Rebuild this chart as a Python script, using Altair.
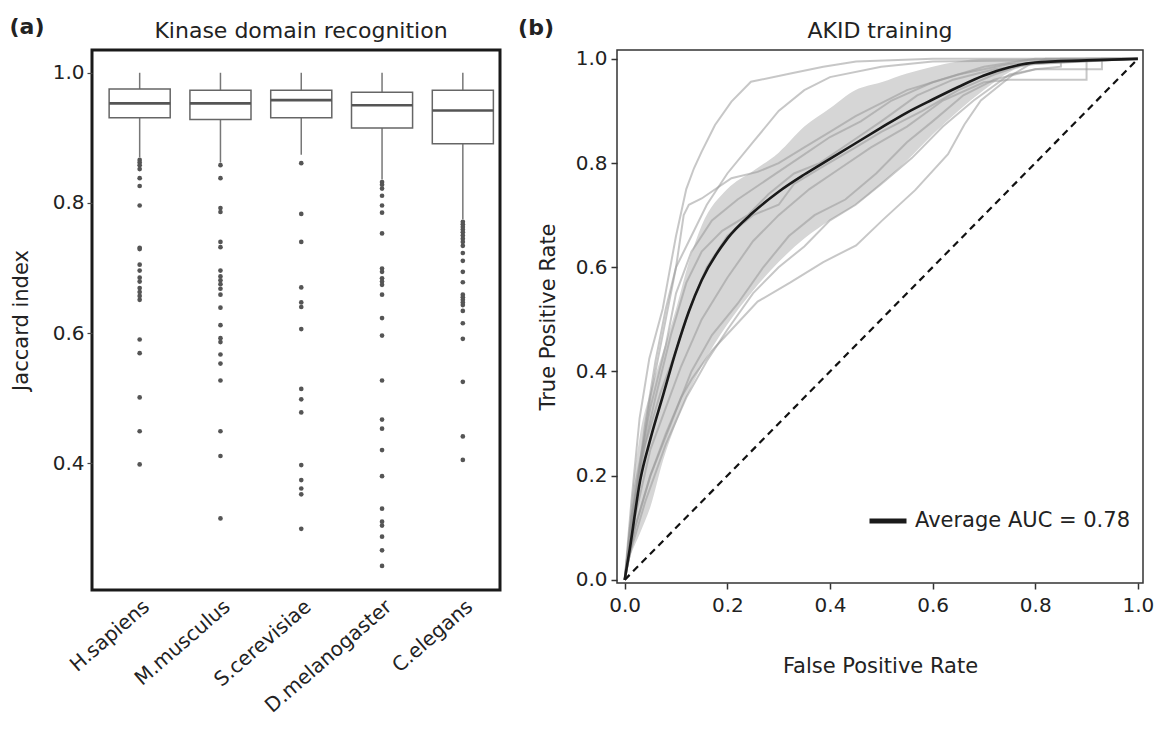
import altair as alt
import pandas as pd

# ---------------- Panel (a): Kinase domain recognition ----------------
species = ["H.sapiens", "M.musculus", "S.cerevisiae", "D.melanogaster", "C.elegans"]
box_q1 = [0.931, 0.928, 0.931, 0.915, 0.891]
box_median = [0.953, 0.953, 0.958, 0.950, 0.942]
box_q3 = [0.975, 0.973, 0.973, 0.970, 0.973]
whisker_low = [0.870, 0.862, 0.874, 0.836, 0.775]
whisker_high = [1.0, 1.0, 1.0, 1.0, 1.0]

outliers_hs = [0.866, 0.862, 0.858, 0.852, 0.838, 0.826, 0.796, 0.731, 0.729, 0.705,
               0.696, 0.685, 0.679, 0.669, 0.663, 0.657, 0.651, 0.590, 0.569, 0.501,
               0.449, 0.398]
outliers_mm = [0.858, 0.838, 0.792, 0.786, 0.740, 0.732, 0.696, 0.687, 0.681, 0.675,
               0.668, 0.659, 0.639, 0.612, 0.592, 0.586, 0.567, 0.553, 0.527, 0.449,
               0.411, 0.315]
outliers_sc = [0.861, 0.783, 0.740, 0.670, 0.647, 0.640, 0.606, 0.514, 0.498, 0.478,
               0.397, 0.374, 0.361, 0.352, 0.299]
outliers_dm = [0.832, 0.828, 0.822, 0.811, 0.796, 0.785, 0.753, 0.699, 0.694, 0.684,
               0.679, 0.674, 0.659, 0.623, 0.596, 0.527, 0.467, 0.453, 0.420, 0.380,
               0.330, 0.310, 0.304, 0.287, 0.266, 0.242]
outliers_ce = [0.771, 0.767, 0.763, 0.759, 0.755, 0.750, 0.745, 0.740, 0.734, 0.723,
               0.711, 0.694, 0.678, 0.659, 0.655, 0.651, 0.647, 0.643, 0.634, 0.615,
               0.591, 0.525, 0.441, 0.405]
outliers = [outliers_hs, outliers_mm, outliers_sc, outliers_dm, outliers_ce]
title_a = "Kinase domain recognition"

# ---------------- Panel (b): AKID training ROC ----------------
band_fpr = [0, 0.01, 0.03, 0.05, 0.075, 0.1, 0.125, 0.15, 0.2, 0.25, 0.3, 0.35, 0.4,
            0.45, 0.5, 0.55, 0.6, 0.65, 0.7, 0.75, 0.8, 0.9, 1.0]
band_upper = [0, 0.12, 0.28, 0.36, 0.44, 0.52, 0.61, 0.68, 0.75, 0.785, 0.82, 0.87, 0.905,
              0.94, 0.955, 0.972, 0.985, 0.995, 1.0, 1.0, 1.0, 1.0, 1.0]
band_lower = [0, 0.04, 0.09, 0.14, 0.23, 0.30, 0.36, 0.41, 0.49, 0.555, 0.61, 0.655, 0.69,
              0.72, 0.76, 0.805, 0.855, 0.90, 0.94, 0.975, 0.99, 1.0, 1.0]
mean_tpr = [0, 0.06, 0.19, 0.27, 0.355, 0.44, 0.515, 0.575, 0.655, 0.705, 0.745, 0.778,
            0.808, 0.838, 0.868, 0.897, 0.922, 0.946, 0.968, 0.984, 0.993, 0.997, 1.0]
legend_label = "Average AUC = 0.78"
title_b = "AKID training"

curve_a = [(0, 0), (0.013, 0.15), (0.029, 0.31), (0.048, 0.425), (0.074, 0.52), (0.086, 0.585),
           (0.10, 0.66), (0.12, 0.75), (0.135, 0.79), (0.15, 0.822), (0.176, 0.873),
           (0.208, 0.918), (0.246, 0.956), (0.323, 0.972), (0.387, 0.985), (0.451, 0.995),
           (0.6, 1.0), (1, 1)]
curve_b = [(0, 0), (0.02, 0.15), (0.05, 0.35), (0.08, 0.5), (0.1, 0.6), (0.115, 0.7),
           (0.125, 0.72), (0.15, 0.732), (0.208, 0.771), (0.259, 0.783), (0.30, 0.80),
           (0.35, 0.83), (0.40, 0.86), (0.45, 0.89), (0.55, 0.94), (0.65, 0.97),
           (0.75, 0.99), (1, 1)]
curve_c = [(0, 0), (0.02, 0.1), (0.05, 0.2), (0.08, 0.28), (0.11, 0.35), (0.131, 0.386),
           (0.17, 0.44), (0.208, 0.48), (0.259, 0.534), (0.323, 0.571), (0.387, 0.61),
           (0.451, 0.642), (0.502, 0.69), (0.566, 0.748), (0.630, 0.817), (0.662, 0.874),
           (0.694, 0.92), (0.758, 0.971), (0.79, 0.99), (0.82, 1.0), (1, 1)]
curve_d = [(0, 0), (0.02, 0.18), (0.05, 0.33), (0.08, 0.45), (0.1, 0.55), (0.13, 0.63),
           (0.17, 0.69), (0.22, 0.73), (0.28, 0.77), (0.34, 0.81), (0.40, 0.85), (0.46, 0.88),
           (0.52, 0.92), (0.6, 0.955), (0.7, 0.985), (0.8, 1.0), (1, 1)]
curve_e = [(0, 0), (0.02, 0.12), (0.05, 0.25), (0.08, 0.33), (0.11, 0.41), (0.15, 0.5),
           (0.2, 0.58), (0.25, 0.65), (0.3, 0.7), (0.36, 0.75), (0.42, 0.79), (0.48, 0.83),
           (0.55, 0.87), (0.62, 0.92), (0.7, 0.955), (0.75, 0.96), (0.9, 0.96), (0.9, 1.0),
           (1, 1)]
curve_f = [(0, 0), (0.01, 0.05), (0.04, 0.15), (0.08, 0.26), (0.12, 0.35), (0.16, 0.42),
           (0.2, 0.48), (0.25, 0.55), (0.3, 0.6), (0.35, 0.64), (0.4, 0.69), (0.45, 0.72),
           (0.5, 0.76), (0.56, 0.81), (0.62, 0.87), (0.68, 0.92), (0.75, 0.97), (0.8, 0.98),
           (0.93, 0.98), (0.93, 1.0), (1, 1)]
curve_g = [(0, 0), (0.015, 0.13), (0.04, 0.26), (0.07, 0.36), (0.1, 0.44), (0.13, 0.53),
           (0.16, 0.6), (0.2, 0.66), (0.25, 0.7), (0.3, 0.72), (0.33, 0.76), (0.38, 0.79),
           (0.45, 0.83), (0.5, 0.86), (0.58, 0.9), (0.65, 0.94), (0.72, 0.97), (0.78, 0.99),
           (1, 1)]
curve_h = [(0, 0), (0.01, 0.1), (0.03, 0.22), (0.06, 0.35), (0.09, 0.47), (0.12, 0.57),
           (0.15, 0.63), (0.19, 0.67), (0.24, 0.7), (0.28, 0.74), (0.33, 0.78), (0.38, 0.8),
           (0.44, 0.84), (0.5, 0.88), (0.57, 0.93), (0.64, 0.96), (0.72, 0.98), (0.8, 0.99),
           (1, 1)]
curve_i = [(0, 0), (0.02, 0.1), (0.05, 0.2), (0.09, 0.3), (0.13, 0.4), (0.17, 0.47),
           (0.22, 0.53), (0.27, 0.6), (0.32, 0.66), (0.37, 0.7), (0.43, 0.73), (0.49, 0.78),
           (0.55, 0.84), (0.6, 0.88), (0.66, 0.93), (0.72, 0.96), (0.8, 0.98), (0.85, 0.985),
           (0.85, 1.0), (1, 1)]
curve_j = [(0, 0), (0.02, 0.15), (0.04, 0.3), (0.06, 0.42), (0.08, 0.52), (0.1, 0.6),
           (0.13, 0.66), (0.16, 0.72), (0.2, 0.78), (0.25, 0.84), (0.3, 0.9), (0.35, 0.94),
           (0.4, 0.965), (0.5, 0.985), (0.6, 0.995), (1, 1)]
fold_curves = [curve_a, curve_b, curve_c, curve_d, curve_e, curve_f, curve_g, curve_h,
               curve_i, curve_j]

FONT = "DejaVu Sans"
W_A, H_A = 408, 540
W_B, H_B = 526, 533

# ---------------- build tables ----------------
box_df = pd.DataFrame({"species": species, "pos": list(range(len(species))),
                       "q1": box_q1, "median": box_median, "q3": box_q3,
                       "lo": whisker_low, "hi": whisker_high})
out_rows = []
for i, vals in enumerate(outliers):
    for v in vals:
        out_rows.append({"species": species[i], "pos": i, "value": v})
out_df = pd.DataFrame(out_rows)

band_df = pd.DataFrame({"fpr": band_fpr, "lower": band_lower, "upper": band_upper,
                        "tpr": mean_tpr, "label": legend_label})
ind_rows = []
for c, pts in enumerate(fold_curves):
    for k, (fx, ty) in enumerate(pts):
        ind_rows.append({"curve": c, "i": k, "fpr": fx, "tpr": ty})
ind_df = pd.DataFrame(ind_rows)
diag_df = pd.DataFrame({"fpr": [0, 1], "tpr": [0, 1]})

# ---------------- panel (a) ----------------
xs_a = alt.Scale(domain=[-0.59, 4.46], nice=False, zero=False)
ys_a = alt.Scale(domain=[0.205, 1.035], nice=False, zero=False)
label_expr = "[" + ",".join("'%s'" % s for s in species) + "][datum.value]"
x_axis_a = alt.Axis(values=list(range(len(species))), labelExpr=label_expr, title=None,
                    ticks=False, domain=False, grid=False, labelAngle=-41,
                    labelAlign="right", labelBaseline="top", labelFontSize=20,
                    labelPadding=6, labelColor="#222", labelOverlap=False, labelFont=FONT)
y_axis_a = alt.Axis(values=[0.4, 0.6, 0.8, 1.0], format=".1f", title="Jaccard index",
                    grid=False, domain=False, tickSize=5, tickColor="#444", tickWidth=1.2,
                    labelFontSize=20, labelColor="#222", labelPadding=3, labelFont=FONT,
                    titleFontSize=21, titleFontWeight="normal", titleColor="#222",
                    titlePadding=21, titleFont=FONT)


def XA(field):
    return alt.X(field, type="quantitative", scale=xs_a, axis=x_axis_a)


def YA(field):
    return alt.Y(field, type="quantitative", scale=ys_a, axis=y_axis_a)


base_a = alt.Chart(box_df)
whisk_hi = base_a.mark_rule(color="#777", strokeWidth=1.5).encode(
    x=XA("pos"), y=YA("q3"), y2="hi")
whisk_lo = base_a.mark_rule(color="#777", strokeWidth=1.5).encode(
    x=XA("pos"), y=YA("lo"), y2="q1")
boxes = base_a.transform_calculate(xl="datum.pos - 0.378", xr="datum.pos + 0.378").mark_rect(
    fill="white", stroke="#666", strokeWidth=1.5).encode(
    x=XA("xl"), x2="xr", y=YA("q1"), y2="q3")
medians = base_a.transform_calculate(xl="datum.pos - 0.378", xr="datum.pos + 0.378").mark_rule(
    color="#555", strokeWidth=2.6).encode(x=XA("xl"), x2="xr", y=YA("median"))
points = alt.Chart(out_df).mark_circle(size=22, color="#555", opacity=1).encode(
    x=XA("pos"), y=YA("value"))
tag_a = alt.Chart(pd.DataFrame({"t": ["(a)"]})).mark_text(
    fontSize=22, fontWeight="bold", font=FONT, align="center", baseline="alphabetic",
    color="#222").encode(x=alt.value(-65), y=alt.value(-16), text="t:N")
head_a = alt.Chart(pd.DataFrame({"t": [title_a]})).mark_text(
    fontSize=22, font=FONT, align="center", baseline="alphabetic",
    color="#222").encode(x=alt.value(209), y=alt.value(-12), text="t:N")

panel_a = alt.layer(whisk_hi, whisk_lo, boxes, medians, points, tag_a, head_a).properties(
    width=W_A, height=H_A,
    view=alt.ViewBackground(stroke="#1a1a1a", strokeWidth=3, fill="white"),
)

# ---------------- panel (b) ----------------
xs_b = alt.Scale(domain=[-0.015, 1.01], nice=False, zero=False)
ys_b = alt.Scale(domain=[-0.006, 1.017], nice=False, zero=False)
ticks01 = [0, 0.2, 0.4, 0.6, 0.8, 1.0]
x_axis_b = alt.Axis(values=ticks01, format=".1f", title="False Positive Rate", grid=False,
                    domain=False, tickSize=6, tickColor="#333", tickWidth=1.5,
                    labelFontSize=20, labelColor="#222", labelPadding=6, labelFont=FONT,
                    titleFontSize=21, titleFontWeight="normal", titleColor="#222",
                    titlePadding=40, titleFont=FONT)
y_axis_b = alt.Axis(values=ticks01, format=".1f", title="True Positive Rate", grid=False,
                    domain=False, tickSize=6, tickColor="#333", tickWidth=1.5,
                    labelFontSize=20, labelColor="#222", labelPadding=4, labelFont=FONT,
                    titleFontSize=21, titleFontWeight="normal", titleColor="#222",
                    titlePadding=17, titleFont=FONT)


def XB(field):
    return alt.X(field, type="quantitative", scale=xs_b, axis=x_axis_b)


def YB(field):
    return alt.Y(field, type="quantitative", scale=ys_b, axis=y_axis_b)


band = alt.Chart(band_df).mark_area(color="#d6d6d6", opacity=1, interpolate="monotone").encode(
    x=XB("fpr"), y=YB("lower"), y2="upper")
folds = alt.Chart(ind_df).mark_line(color="#999", opacity=0.55, strokeWidth=2).encode(
    x=XB("fpr"), y=YB("tpr"), detail="curve:N", order="i:Q")
diag = alt.Chart(diag_df).mark_line(color="#111", strokeDash=[7, 5], strokeWidth=2.2).encode(
    x=XB("fpr"), y=YB("tpr"))
mean_line = alt.Chart(band_df).mark_line(strokeWidth=2.6, interpolate="monotone").encode(
    x=XB("fpr"), y=YB("tpr"),
    color=alt.Color("label:N", scale=alt.Scale(domain=[legend_label], range=["#1a1a1a"]),
                    legend=alt.Legend(title=None, orient="none", legendX=250, legendY=450,
                                      symbolType="stroke", symbolSize=1369,
                                      symbolStrokeWidth=5, labelFontSize=21, labelFont=FONT,
                                      labelColor="#222", labelOffset=6, labelLimit=400)))
tag_b = alt.Chart(pd.DataFrame({"t": ["(b)"]})).mark_text(
    fontSize=22, fontWeight="bold", font=FONT, align="center", baseline="alphabetic",
    color="#222").encode(x=alt.value(-81), y=alt.value(-15), text="t:N")
head_b = alt.Chart(pd.DataFrame({"t": [title_b]})).mark_text(
    fontSize=22, font=FONT, align="center", baseline="alphabetic",
    color="#222").encode(x=alt.value(W_B / 2), y=alt.value(-12), text="t:N")

panel_b = alt.layer(band, folds, diag, mean_line, tag_b, head_b).properties(
    width=W_B, height=H_B,
    view=alt.ViewBackground(stroke="#333", strokeWidth=1.5, fill="white"),
)

chart = alt.hconcat(panel_a, panel_b, spacing=15).resolve_legend(
    color="independent").properties(
    padding={"left": 0, "top": 6, "right": 0, "bottom": 0}
).configure(font=FONT)

chart.save("out.html", embed_options={"renderer": "svg", "actions": False})
